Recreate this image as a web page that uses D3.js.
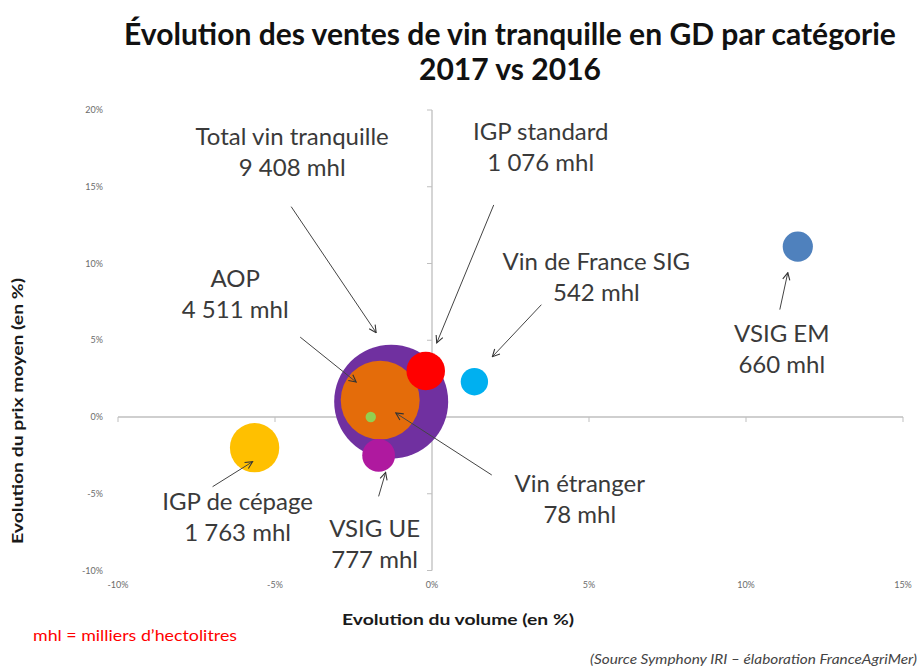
<!DOCTYPE html>
<html lang="fr">
  <head>
    <meta charset="UTF-8" />
    <title>Évolution des ventes de vin tranquille en GD par catégorie</title>
    <script src="https://d3js.org/d3.v7.min.js"></script>
    <style>
      body {
        margin: 0;
        background: #fff;
      }
      svg {
        display: block;
        font-family: Lato, "Open Sans", sans-serif;
      }
      .tick-label {
        font-size: 9px;
        fill: #6b6b6b;
      }
      .annot {
        font-size: 24px;
        fill: #3a3a3a;
        text-anchor: middle;
      }
      .axis-title {
        font-size: 16px;
        font-weight: bold;
        fill: #1a1a1a;
        text-anchor: middle;
      }
    </style>
  </head>
  <body>
    <svg id="chart" width="922" height="667"></svg>

    <script>
      // données
      const categories = [
        "Total vin tranquille",
        "AOP",
        "IGP standard",
        "Vin de France SIG",
        "Vin étranger",
        "VSIG UE",
        "IGP de cépage",
        "VSIG EM",
      ];
      const volumeChange = [-1.3, -1.65, -0.2, 1.35, -1.95, -1.7, -5.65, 11.65]; // %
      const priceChange = [1.0, 1.1, 3.0, 2.3, 0.0, -2.5, -2.0, 11.1]; // %
      const volumes = [9408, 4511, 1076, 542, 78, 777, 1763, 660]; // mhl
      const volumeLabels = ["9 408", "4 511", "1 076", "542", "78", "777", "1 763", "660"];
      const colors = ["#7030A0", "#E46C0A", "#FF0000", "#00B0F0", "#92D050", "#AF199F", "#FFC000", "#4F81BD"];

      const xTicks = [-10, -5, 0, 5, 10, 15];
      const yTicks = [-10, -5, 0, 5, 10, 15, 20];

      // emplacement des étiquettes (décalage par rapport au centre de la bulle)
      // [texte dx, texte dy, flèche début dx, dy, flèche fin dx, dy]
      const labelOffsets = [
        [-99, -257, -100, -195, -15, -69],
        [-145, -113, -80, -63, -24, -18],
        [115, -231, 68, -166, 11, -28],
        [122, -112, 67, -77, 18, -25],
        [209, 75, 121, 58, 25, -4],
        [-4, 82, 0, 41, 7, 17],
        [-17, 62, -42, 39, -2, 14],
        [-16, 95, -18, 63, -10, 26],
      ];

      const svg = d3.select("#chart");

      const x = d3.scaleLinear().domain([-10, 15]).range([118, 903]);
      const y = d3.scaleLinear().domain([-10, 20]).range([570.5, 110]);
      const r = d3.scaleSqrt().domain([0, 9408]).range([0, 57]);

      // ---- titre
      const title = svg.append("text")
        .attr("x", 510)
        .attr("text-anchor", "middle")
        .style("font-weight", "bold")
        .style("fill", "#111");
      title.append("tspan").attr("x", 510).attr("y", 45)
        .text("Évolution des ventes de vin tranquille en GD par catégorie");
      title.append("tspan").attr("x", 510).attr("y", 80).text("2017 vs 2016");
      // ajuster la taille pour obtenir la largeur du modèle
      title.style("font-size", "26px");
      const w = title.select("tspan").node().getComputedTextLength();
      title.style("font-size", (26 * 772 / w) + "px");

      // ---- axes (croisés à 0)
      const axisColor = "#bfbfbf";
      svg.append("line")
        .attr("x1", x(-10)).attr("x2", x(15))
        .attr("y1", y(0)).attr("y2", y(0))
        .attr("stroke", axisColor).attr("stroke-width", 1.3);
      svg.append("line")
        .attr("x1", x(0)).attr("x2", x(0))
        .attr("y1", y(-10)).attr("y2", y(20))
        .attr("stroke", axisColor).attr("stroke-width", 1.3);

      svg.selectAll(".xtick")
        .data(xTicks)
        .join("line")
        .attr("class", "xtick")
        .attr("x1", (d) => x(d)).attr("x2", (d) => x(d))
        .attr("y1", y(0)).attr("y2", y(0) + 5)
        .attr("stroke", axisColor);
      svg.selectAll(".ytick")
        .data(yTicks)
        .join("line")
        .attr("class", "ytick")
        .attr("x1", x(0) - 5).attr("x2", x(0))
        .attr("y1", (d) => y(d)).attr("y2", (d) => y(d))
        .attr("stroke", axisColor);

      svg.selectAll(".xlab")
        .data(xTicks)
        .join("text")
        .attr("class", "tick-label xlab")
        .attr("x", (d) => x(d))
        .attr("y", 588)
        .attr("text-anchor", "middle")
        .text((d) => d + "%");
      svg.selectAll(".ylab")
        .data(yTicks)
        .join("text")
        .attr("class", "tick-label ylab")
        .attr("x", 103)
        .attr("y", (d) => y(d) + 3)
        .attr("text-anchor", "end")
        .text((d) => d + "%");

      svg.append("text")
        .attr("class", "axis-title")
        .attr("x", 458).attr("y", 625)
        .attr("textLength", 232)
        .attr("lengthAdjust", "spacingAndGlyphs")
        .text("Evolution du volume (en %)");
      svg.append("text")
        .attr("class", "axis-title")
        .attr("transform", "translate(23,411) rotate(-90)")
        .attr("textLength", 266)
        .attr("lengthAdjust", "spacingAndGlyphs")
        .text("Evolution du prix moyen (en %)");

      // ---- bulles
      const data = categories.map((c, i) => ({
        name: c,
        vx: volumeChange[i],
        vy: priceChange[i],
        vol: volumes[i],
        lab: volumeLabels[i],
        color: colors[i],
        off: labelOffsets[i],
      }));

      svg.append("g")
        .selectAll("circle")
        .data(data)
        .join("circle")
        .attr("cx", (d) => x(d.vx))
        .attr("cy", (d) => y(d.vy))
        .attr("r", (d) => r(d.vol))
        .attr("fill", (d) => d.color);

      // ---- flèches et étiquettes
      svg.append("defs").append("marker")
        .attr("id", "arrow")
        .attr("viewBox", "0 0 10 10")
        .attr("refX", 9).attr("refY", 5)
        .attr("markerWidth", 9).attr("markerHeight", 9)
        .attr("markerUnits", "userSpaceOnUse")
        .attr("orient", "auto")
        .append("path")
        .attr("d", "M1,1 L9,5 L1,9")
        .attr("fill", "none")
        .attr("stroke", "#333")
        .attr("stroke-width", 1.2);

      const ann = svg.append("g").selectAll("g").data(data).join("g");

      ann.append("line")
        .attr("x1", (d) => x(d.vx) + d.off[2])
        .attr("y1", (d) => y(d.vy) + d.off[3])
        .attr("x2", (d) => x(d.vx) + d.off[4])
        .attr("y2", (d) => y(d.vy) + d.off[5])
        .attr("stroke", "#444")
        .attr("stroke-width", 1)
        .attr("marker-end", "url(#arrow)");

      const txt = ann.append("text")
        .attr("class", "annot");
      txt.append("tspan")
        .attr("x", (d) => x(d.vx) + d.off[0])
        .attr("y", (d) => y(d.vy) + d.off[1])
        .text((d) => d.name);
      txt.append("tspan")
        .attr("x", (d) => x(d.vx) + d.off[0])
        .attr("y", (d) => y(d.vy) + d.off[1] + 31)
        .text((d) => d.lab + " mhl");

      // ---- notes
      svg.append("text")
        .attr("x", 33).attr("y", 641)
        .attr("textLength", 204)
        .attr("lengthAdjust", "spacingAndGlyphs")
        .style("font-size", "15px")
        .style("fill", "#ff0000")
        .text("mhl = milliers d’hectolitres");
      svg.append("text")
        .attr("x", 917).attr("y", 664)
        .attr("text-anchor", "end")
        .attr("textLength", 327)
        .attr("lengthAdjust", "spacingAndGlyphs")
        .style("font-size", "13px")
        .style("font-style", "italic")
        .style("fill", "#444")
        .text("(Source Symphony IRI – élaboration FranceAgriMer)");
    </script>
  </body>
</html>
